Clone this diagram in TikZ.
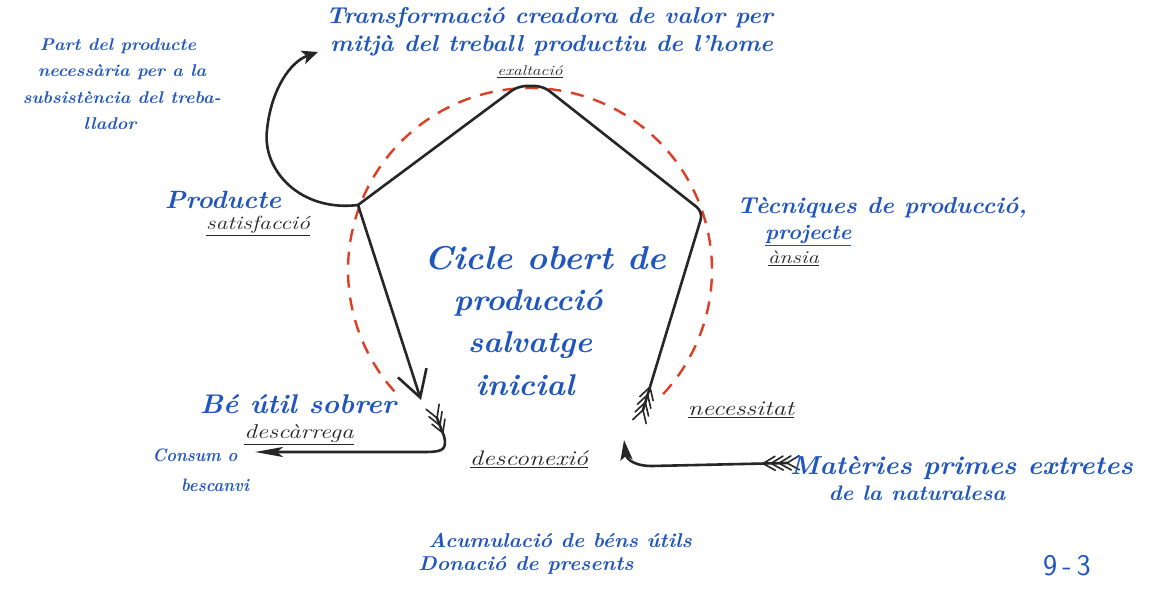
\documentclass[tikz,border=0pt]{standalone}
\usetikzlibrary{arrows.meta,calc}
\definecolor{ink}{RGB}{32,86,190}
\definecolor{penc}{RGB}{38,38,38}
\definecolor{redd}{RGB}{222,62,36}
\newcommand\sx[1]{\scalebox{1.05}[1]{#1}}
\newcommand\sy[1]{\scalebox{1.25}[1]{#1}}
\newcommand\fletch[3]{%
  \foreach \f in {0,8,...,#3} {
    \path ($(#1)!\f pt!(#2)$) coordinate (fq);
    \draw[inkline, line width=1.6pt] ($(fq)!14pt!150:(#2)$) -- (fq) -- ($(fq)!14pt!-150:(#2)$);
  }}
\tikzset{
  hw/.style={text=ink, inner sep=0pt, font=\fontsize{#1}{#1}\selectfont\bfseries\itshape},
  lab/.style={text=penc, inner sep=0pt, font=\fontsize{#1}{#1}\selectfont\itshape},
  inkline/.style={draw=penc, line width=2.6pt, line cap=round, line join=round},
  reddash/.style={draw=redd, line width=2.4pt, dash pattern=on 13pt off 10pt},
}
\begin{document}
\begin{tikzpicture}[x=1pt,y=-1pt]
\useasboundingbox[fill=white] (0,0) rectangle (1156,589);

% key points
\coordinate (L) at (358,205);
\coordinate (T1) at (518,86);
\coordinate (T2) at (543,86);
\coordinate (R) at (703,212);
\coordinate (Lh) at (421,400);
\coordinate (Rt) at (643,410);
\coordinate (Lp) at (318,52);
\coordinate (BLt) at (437,418);
\coordinate (BLh) at (255,452);
\coordinate (BRt) at (787,463);
\coordinate (BRh) at (624,440);

% red dashed open circle
\draw[reddash] plot[domain=-43:223, samples=100, smooth] ({530+182*cos(\x)},{270-182*sin(\x)});

% pentagon edges
\draw[inkline, rounded corners=8pt] (Rt) -- (R) -- (T2) -- (T1) -- (L);
\fletch{Rt}{R}{24}
\draw[inkline, -{Straight Barb[length=26pt,width=30pt]}] (L) -- (Lh);
\draw[inkline, -{Stealth[length=16pt,width=14pt,inset=4pt]}]
  (L) .. controls (300,212) and (262,170) .. (267,130)
      .. controls (271,90) and (290,62) .. (Lp);

% bottom arrows
\draw[inkline, -{Stealth[length=28pt,width=10pt,inset=6pt]}]
  (BLt) -- (444,436) .. controls (448,452) and (440,452) .. (420,452) -- (BLh);
\fletch{BLt}{444,436}{16}
\draw[inkline, -{Stealth[length=20pt,width=12pt,inset=4pt]}]
  (BRt) -- (652,466) .. controls (630,466) and (626,456) .. (BRh);
\fletch{BRt}{652,466}{24}

% texts
\node[hw=23, anchor=west] (tr1) at (326,18) {\sx{Transformació creadora de valor per}};
\node[hw=23, anchor=west] (tr2) at (330,46) {\sx{mitjà del treball productiu de l'home}};
\node[lab=14] (exal) at (530,72) {\sy{\underline{exaltació}}};

\node[hw=17] (p1) at (118,46) {\sx{Part del producte}};
\node[hw=17] (p2) at (122,72) {\sx{necessària per a la}};
\node[hw=17] (p3) at (122,98) {\sx{subsistència del treba-}};
\node[hw=17] (p4) at (110,124) {\sx{llador}};

\node[hw=25] (prod) at (223,200) {\sx{Producte}};
\node[lab=19] (sat) at (258,226) {\sy{\underline{satisfacció}}};

\node[hw=23, anchor=west] (tec) at (737,208) {\sx{Tècniques de producció,}};
\node[hw=21, anchor=west] (proj) at (765,236) {\sx{\underline{projecte}}};
\node[lab=18, anchor=west] (ans) at (768,258) {\sy{\underline{ànsia}}};

\node[hw=33] (c1) at (545,258) {\sx{Cicle obert de}};
\node[hw=30] (c2) at (528,303) {\sx{producció}};
\node[hw=30] (c3) at (530,345) {\sx{salvatge}};
\node[hw=30] (c4) at (525,385) {\sx{inicial}};

\node[hw=27] (be) at (298,404) {\sx{Bé útil sobrer}};
\node[lab=20] (desc) at (299,435) {\sy{\underline{descàrrega}}};
\node[lab=21] (dcx) at (529,459) {\sy{\underline{desconexió}}};
\node[lab=21] (nec) at (741,410) {\sy{\underline{necessitat}}};

\node[hw=26, anchor=west] (mat) at (790,468) {\sx{Matèries primes extretes}};
\node[hw=21] (nat) at (917,493) {\sx{de la naturalesa}};

\node[hw=18] (con) at (195,455) {\scalebox{0.92}[1]{Consum o}};
\node[hw=18] (bes) at (215,485) {\scalebox{0.92}[1]{bescanvi}};

\node[hw=20] (acu) at (560,540) {\sx{Acumulació de béns útils}};
\node[hw=20] (don) at (526,565) {\sx{Donació de presents}};

\node[text=ink, inner sep=0pt, font=\fontsize{30}{30}\selectfont\sffamily] (num) at (1067,566) {9\,-\,3};
\end{tikzpicture}
\end{document}
